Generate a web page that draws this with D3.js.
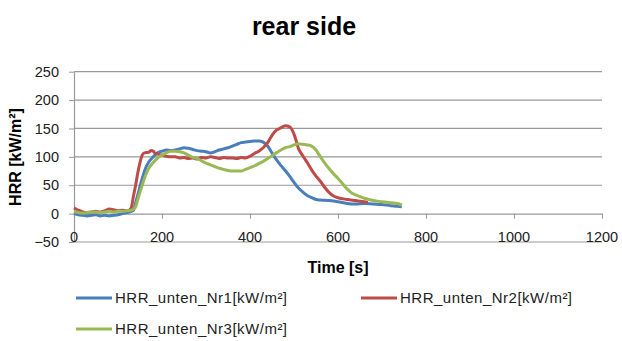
<!DOCTYPE html>
<html>
<head>
<meta charset="utf-8">
<script src="https://cdn.jsdelivr.net/npm/d3@7"></script>
<style>
  body { margin: 0; background: #fff; }
  text { font-family: "Liberation Sans", Arial, sans-serif; }
</style>
</head>
<body>
<div id="chart"></div>
<script>
// data
const seriesNames = ["HRR_unten_Nr1[kW/m²]", "HRR_unten_Nr2[kW/m²]", "HRR_unten_Nr3[kW/m²]"];
const seriesColors = ["#4a7ebb", "#be4b48", "#98b954"];

const timeNr1 = [0, 10, 20, 30, 40, 50, 60, 70, 80, 90, 100, 110, 120, 130, 135, 140, 145, 150, 155, 160, 165, 170, 180, 190, 200, 210, 220, 230, 240, 250, 260, 270, 280, 290, 300, 310, 320, 330, 340, 350, 360, 370, 380, 390, 400, 410, 420, 430, 440, 450, 460, 470, 480, 490, 500, 510, 520, 530, 540, 550, 560, 580, 600, 620, 640, 660, 680, 700, 720, 735, 745];
const hrrNr1 = [0, -2, -3, -4, -3, -2, -4, -3, -4, -3, -2, 0, 2, 4, 6, 19, 33, 48, 62, 74, 84, 91, 100, 107, 110, 112, 111, 112, 114, 116, 115, 113, 111, 110, 109, 107, 109, 112, 114, 116, 119, 122, 125, 126, 127, 128, 128, 126, 119, 107, 95, 85, 76, 66, 55, 45, 38, 32, 28, 25, 24, 23, 21, 18, 17, 18, 17, 16, 14, 13, 12];

const timeNr2 = [0, 5, 10, 20, 30, 40, 50, 60, 70, 80, 90, 100, 110, 120, 125, 130, 135, 140, 145, 150, 155, 160, 170, 175, 180, 185, 190, 200, 210, 220, 230, 240, 250, 260, 270, 280, 290, 300, 310, 320, 330, 340, 350, 360, 370, 380, 390, 400, 410, 420, 430, 440, 450, 460, 470, 480, 490, 500, 505, 510, 520, 530, 540, 550, 560, 570, 580, 590, 600, 620, 640, 660, 668];
const hrrNr2 = [10, 8, 6, 3, 2, 3, 4, 3, 5, 8, 7, 5, 6, 5, 6, 10, 30, 50, 72, 90, 103, 107, 108, 111, 110, 106, 105, 103, 101, 100, 100, 98, 99, 97, 98, 96, 99, 98, 100, 99, 97, 99, 98, 98, 97, 99, 98, 101, 106, 110, 116, 125, 138, 147, 151, 155, 153, 140, 128, 115, 102, 90, 77, 66, 57, 46, 37, 31, 28, 25, 23, 21, 20];

const timeNr3 = [0, 10, 20, 30, 40, 50, 60, 70, 80, 90, 100, 110, 120, 130, 135, 140, 145, 150, 155, 160, 165, 170, 180, 190, 200, 210, 220, 230, 240, 250, 260, 270, 280, 290, 300, 310, 320, 330, 340, 350, 360, 370, 380, 390, 400, 410, 420, 430, 440, 450, 460, 470, 480, 490, 500, 510, 520, 530, 540, 550, 560, 570, 580, 590, 600, 610, 620, 630, 640, 650, 660, 670, 680, 700, 720, 735, 745];
const hrrNr3 = [4, 2, 1, 2, 3, 3, 2, 3, 4, 3, 4, 4, 5, 6, 8, 12, 25, 38, 50, 62, 72, 80, 90, 98, 103, 107, 110, 110, 109, 107, 103, 99, 97, 93, 89, 86, 83, 80, 78, 76, 75, 75, 75, 78, 81, 84, 88, 92, 97, 102, 107, 112, 116, 118, 121, 123, 122, 121, 119, 112, 100, 89, 79, 70, 62, 53, 44, 37, 33, 30, 27, 25, 23, 21, 19, 18, 15];

const xTicks = [0, 200, 400, 600, 800, 1000, 1200];
const yTicks = [-50, 0, 50, 100, 150, 200, 250];

const width = 622;
const height = 341;
const plot = { left: 74, right: 602, top: 71.7, bottom: 242 };

const svg = d3.select("#chart")
    .append("svg")
    .attr("width", width)
    .attr("height", height);

const x = d3.scaleLinear().domain([0, 1200]).range([plot.left, plot.right]);
const y = d3.scaleLinear().domain([-50, 250]).range([plot.bottom, plot.top]);

// horizontal gridlines (incl. the -50 bottom line)
svg.append("g")
    .selectAll("line")
    .data(yTicks.filter(d => d !== 0))
    .enter()
    .append("line")
    .attr("x1", plot.left)
    .attr("x2", plot.right)
    .attr("y1", d => y(d))
    .attr("y2", d => y(d))
    .attr("stroke", "#999")
    .attr("stroke-width", 1.2);

// y axis with outer ticks
const yAxis = svg.append("g")
    .attr("transform", `translate(${plot.left},0)`)
    .call(d3.axisLeft(y).tickValues(yTicks).tickSize(5).tickPadding(10).tickSizeOuter(0));
yAxis.select(".domain").attr("stroke", "#999").attr("stroke-width", 1.2);
yAxis.selectAll(".tick line").attr("stroke", "#999");
yAxis.selectAll(".tick text")
    .style("font-size", "14.5px")
    .attr("fill", "#222");

// x axis line sits at y = 0, labels at the bottom of the plot
const xAxis = svg.append("g")
    .attr("transform", `translate(0,${y(0)})`)
    .call(d3.axisBottom(x).tickValues(xTicks.filter(d => d !== 0)).tickSize(5).tickFormat("").tickSizeOuter(0));
xAxis.select(".domain").attr("stroke", "#999").attr("stroke-width", 1.2);
xAxis.selectAll(".tick line").attr("stroke", "#999");

svg.append("g")
    .selectAll("text")
    .data(xTicks)
    .enter()
    .append("text")
    .attr("x", d => x(d))
    .attr("y", plot.bottom)
    .attr("text-anchor", "middle")
    .style("font-size", "14.5px")
    .attr("fill", "#222")
    .text(d => d);

// series lines
const series = [
    { name: seriesNames[0], color: seriesColors[0], t: timeNr1, v: hrrNr1 },
    { name: seriesNames[1], color: seriesColors[1], t: timeNr2, v: hrrNr2 },
    { name: seriesNames[2], color: seriesColors[2], t: timeNr3, v: hrrNr3 },
];

const line = d3.line()
    .x(d => x(d[0]))
    .y(d => y(d[1]))
    .curve(d3.curveMonotoneX);

svg.append("g")
    .selectAll("path")
    .data(series)
    .enter()
    .append("path")
    .attr("d", d => line(d3.zip(d.t, d.v)))
    .attr("fill", "none")
    .attr("stroke", d => d.color)
    .attr("stroke-width", 3)
    .attr("stroke-linejoin", "round");

// titles
svg.append("text")
    .attr("x", 304)
    .attr("y", 35)
    .attr("text-anchor", "middle")
    .style("font-size", "25px")
    .style("font-weight", "bold")
    .text("rear side");

svg.append("text")
    .attr("transform", "translate(21,157) rotate(-90)")
    .attr("text-anchor", "middle")
    .style("font-size", "16px")
    .style("font-weight", "bold")
    .text("HRR [kW/m²]");

svg.append("text")
    .attr("x", 338)
    .attr("y", 273)
    .attr("text-anchor", "middle")
    .style("font-size", "16px")
    .style("font-weight", "bold")
    .text("Time [s]");

// legend
const legendPos = [[76, 298], [361, 298], [76, 329]];
const legend = svg.append("g")
    .selectAll("g")
    .data(series)
    .enter()
    .append("g")
    .attr("transform", (d, i) => `translate(${legendPos[i][0]},${legendPos[i][1]})`);

legend.append("line")
    .attr("x1", 0)
    .attr("x2", 36)
    .attr("stroke", d => d.color)
    .attr("stroke-width", 3);

legend.append("text")
    .attr("x", 39)
    .attr("y", 5)
    .style("font-size", "15px")
    .style("letter-spacing", "0.5px")
    .attr("fill", "#222")
    .text(d => d.name);
</script>
</body>
</html>
